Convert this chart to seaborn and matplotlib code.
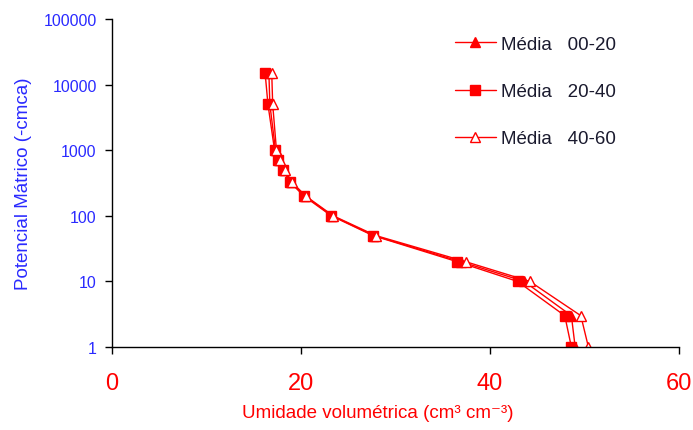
import matplotlib
matplotlib.use("Agg")
import matplotlib.pyplot as plt
import seaborn as sns
import pandas as pd

# potencial matricial (cm) e umidade volumetrica (%) por camada
potencial = [1, 3, 10, 20, 50, 100, 200, 330, 500, 700, 1000, 5000, 15000]
umid_00_20 = [49.0, 48.6, 43.6, 36.9, 27.7, 23.3, 20.4, 18.9, 18.2, 17.7, 17.3, 16.7, 16.6]
umid_20_40 = [48.6, 47.9, 42.9, 36.5, 27.6, 23.2, 20.3, 18.8, 18.1, 17.6, 17.2, 16.5, 16.2]
umid_40_60 = [50.4, 49.6, 44.2, 37.4, 27.9, 23.4, 20.5, 19.0, 18.3, 17.8, 17.4, 17.0, 16.9]

x_ticks = [0, 20, 40, 60]
y_ticks = [1, 10, 100, 1000, 10000, 100000]

sns.set_theme(style="white")
plt.rcParams["font.family"] = ["Liberation Sans", "DejaVu Sans"]

fig = plt.figure(figsize=(6.93, 4.31), dpi=100)
ax = fig.add_axes([0.1616, 0.1926, 0.8184, 0.761])

series = [
    ("Média   00-20", umid_00_20, "^", "red"),
    ("Média   20-40", umid_20_40, "s", "red"),
    ("Média   40-60", umid_40_60, "^", "white"),
]
for label, umid, marker, face in series:
    df = pd.DataFrame({"umidade": umid, "potencial": potencial})
    sns.lineplot(data=df, x="umidade", y="potencial", sort=False, estimator=None,
                 color="red", lw=1.0, marker=marker, markersize=7,
                 markerfacecolor=face, markeredgecolor="red", markeredgewidth=1.0,
                 label=label, ax=ax)

ax.set_yscale("log")
ax.set_xlim(0, 60)
ax.set_ylim(1, 100000)
ax.set_xticks(x_ticks)
ax.set_yticks(y_ticks)
ax.set_yticklabels([str(v) for v in y_ticks])
ax.minorticks_off()
ax.tick_params(axis="y", colors="black", labelcolor="#2a2aff", labelsize=11.5,
               left=True, length=5, width=1, direction="out", pad=6)
ax.tick_params(axis="x", colors="black", labelcolor="red", labelsize=17,
               bottom=True, length=5, width=1, direction="out", pad=13)
for s in ["top", "right"]:
    ax.spines[s].set_visible(False)
for s in ["left", "bottom"]:
    ax.spines[s].set_color("black")
    ax.spines[s].set_linewidth(1.0)

ax.set_xlabel("Umidade volumétrica (cm³ cm⁻³)", color="red", fontsize=13.5)
ax.xaxis.set_label_coords(0.469, -0.175)
ax.set_ylabel("Potencial Mátrico (-cmca)", color="#2a2aff", fontsize=13.5, labelpad=8)

leg = ax.legend(loc="upper right", frameon=False, fontsize=13.5, labelspacing=1.6,
                handlelength=2.2, handletextpad=0.25, bbox_to_anchor=(0.918, 1.0))
for t in leg.get_texts():
    t.set_color("#1a1a2e")

fig.savefig("out.png", dpi=100)
